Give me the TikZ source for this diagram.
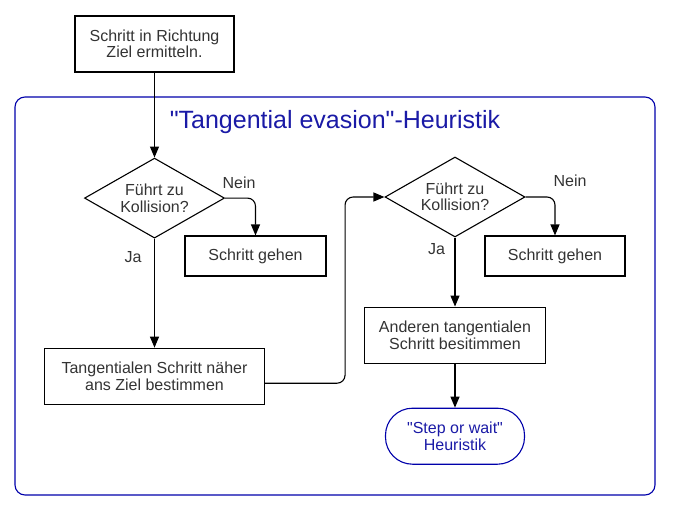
\documentclass[tikz,border=0pt]{standalone}
\usepackage{fontspec}
\setmainfont{Liberation Sans}
\usetikzlibrary{shapes.geometric, positioning, arrows.meta}

\definecolor{frameblue}{RGB}{0,0,170}
\definecolor{titleblue}{RGB}{26,26,166}
\definecolor{textgray}{RGB}{51,51,51}

\tikzset{
	box/.style={draw, line width=1.1pt, align=center, text=textgray,
		font=\fontsize{16}{16.5}\selectfont},
	check/.style={box, diamond, aspect=1.75, inner sep=0pt,
		minimum width=140pt, minimum height=80pt},
	term/.style={box, draw=frameblue, text=titleblue, rounded corners=27pt,
		minimum width=139pt, minimum height=56pt},
	flow/.style={draw, line width=1.1pt, -{Triangle[length=11pt,width=9pt]}},
	lbl/.style={text=textgray, font=\fontsize{16}{16.5}\selectfont},
}

\begin{document}
\begin{tikzpicture}[x=1pt, y=-1pt]
	\useasboundingbox (0,0) rectangle (675,519);

	\draw[frameblue, line width=1.1pt, rounded corners=10pt] (15,97) rectangle (655,495);
	\node[text=titleblue, font=\fontsize{25}{27}\selectfont] (title) at (335,122) {\textquotedbl Tangential evasion\textquotedbl-Heuristik};

	\node[box, minimum width=159pt, minimum height=56pt] (start) at (154.5,44) {Schritt in Richtung\\Ziel ermitteln.};
	\node[check, below=85pt of start] (chk1) {Führt zu\\Kollision?};
	\node[box, minimum width=141pt, minimum height=40pt] (go1) at (255.5,256) {Schritt gehen};
	\node[box, minimum width=220pt, minimum height=56pt, below=109pt of chk1] (tang) {Tangentialen Schritt näher\\ans Ziel bestimmen};

	\node[check] (chk2) at (455,197) {Führt zu\\Kollision?};
	\node[box, minimum width=140pt, minimum height=40pt] (go2) at (555,256) {Schritt gehen};
	\node[box, minimum width=181pt, minimum height=56pt, below=69pt of chk2] (other) {Anderen tangentialen\\Schritt besitimmen};
	\node[term, below=44pt of other] (sow) {\textquotedbl Step or wait\textquotedbl\\Heuristik};

	\draw[flow] (start) -- (chk1);
	\draw[flow, rounded corners=8pt] (chk1.east) -| node[lbl, pos=0.23, above=6pt] {Nein} (go1);
	\draw[flow] (chk1) -- node[lbl, pos=0.17, left=9pt] {Ja} (tang);
	\draw[flow, rounded corners=8pt] ([yshift=-7pt]tang.east) -- ++(80,0) |- (chk2.west);

	\draw[flow, rounded corners=8pt] (chk2.east) -| node[lbl, pos=0.5, above=6pt, xshift=15pt] {Nein} (go2);
	\draw[flow] (chk2) -- node[lbl, pos=0.16, left=6pt] {Ja} (other);
	\draw[flow] (other) -- (sow);
\end{tikzpicture}
\end{document}
